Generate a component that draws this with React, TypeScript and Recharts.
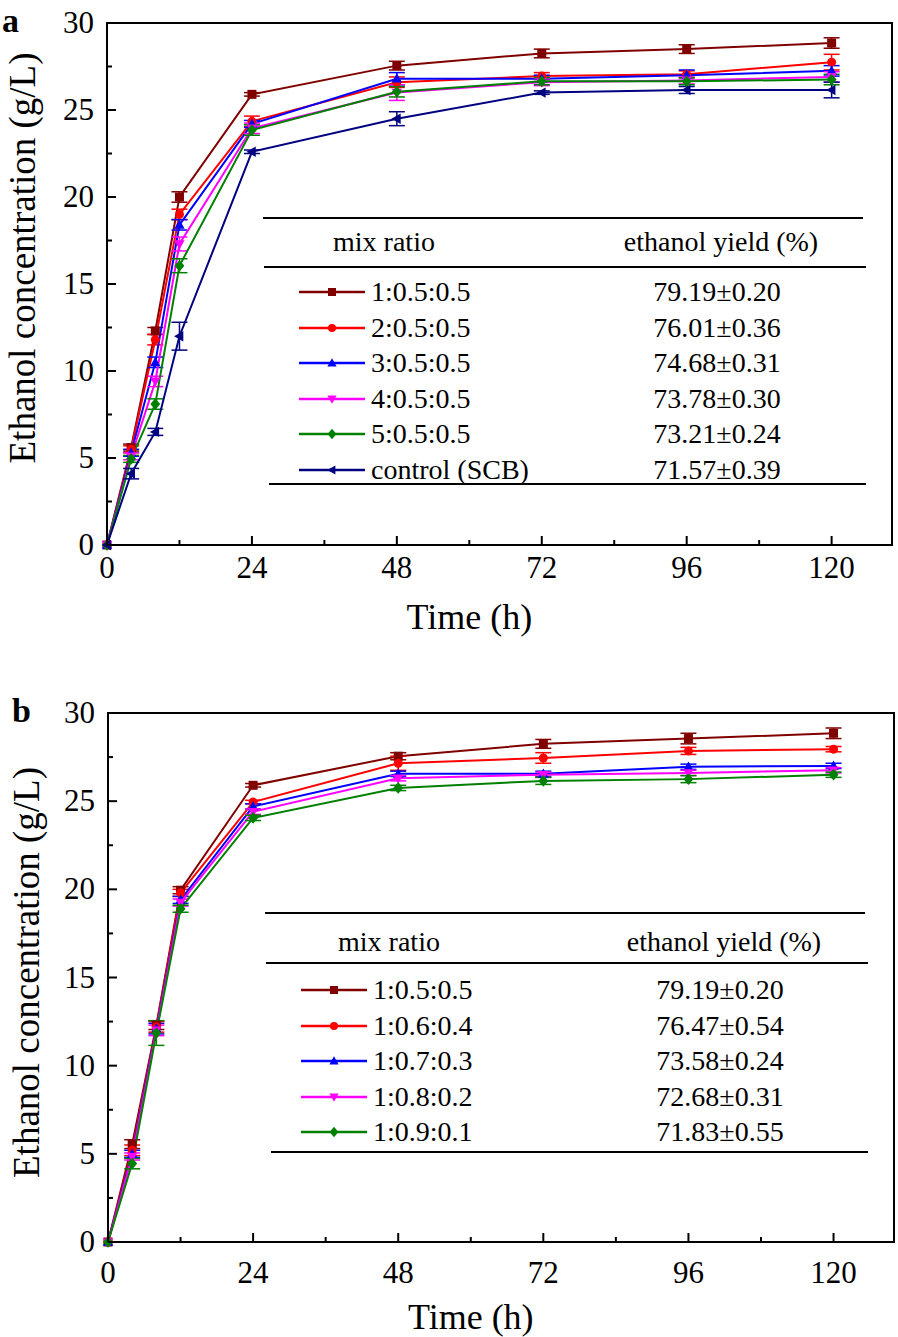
import React from 'react';
import { LineChart, Line, XAxis, YAxis, ErrorBar, ReferenceArea, Legend, Label } from 'recharts';

const FONT = '"Liberation Serif", "Times New Roman", serif';

// sampling times (h)
const HOURS = [0, 4, 8, 12, 24, 48, 72, 96, 120];
const X_TICKS = [0, 12, 24, 36, 48, 60, 72, 84, 96, 108, 120];
const Y_TICKS = [0, 2.5, 5, 7.5, 10, 12.5, 15, 17.5, 20, 22.5, 25, 27.5, 30];

const COLORS = ['#800000', '#ff0000', '#0000ff', '#ff00ff', '#008000', '#000080'];
const SHAPES = ['square', 'circle', 'up', 'down', 'diamond', 'left'];

// panel a
const A_NAMES = ['1:0.5:0.5', '2:0.5:0.5', '3:0.5:0.5', '4:0.5:0.5', '5:0.5:0.5', 'control (SCB)'];
const A_YIELDS = ['79.19±0.20', '76.01±0.36', '74.68±0.31', '73.78±0.30', '73.21±0.24', '71.57±0.39'];
const A_S1 = [0, 5.6, 12.3, 20.0, 25.9, 27.55, 28.25, 28.5, 28.85];
const A_S2 = [0, 5.5, 11.8, 19.0, 24.35, 26.6, 26.95, 27.05, 27.75];
const A_S3 = [0, 5.3, 10.5, 18.4, 24.2, 26.8, 26.8, 27.0, 27.25];
const A_S4 = [0, 5.1, 9.4, 17.3, 23.95, 26.0, 26.6, 26.7, 26.9];
const A_S5 = [0, 4.95, 8.1, 16.05, 23.85, 26.05, 26.65, 26.65, 26.75];
const A_S6 = [0, 4.1, 6.5, 12.0, 22.6, 24.5, 26.0, 26.15, 26.15];
const A_E1 = [0, 0.2, 0.2, 0.3, 0.1, 0.25, 0.25, 0.25, 0.3];
const A_E2 = [0, 0.2, 0.3, 0.3, 0.3, 0.3, 0.2, 0.2, 0.45];
const A_E3 = [0, 0.2, 0.3, 0.3, 0.2, 0.35, 0.2, 0.3, 0.3];
const A_E4 = [0, 0.2, 0.3, 0.4, 0.3, 0.45, 0.2, 0.2, 0.3];
const A_E5 = [0, 0.2, 0.3, 0.4, 0.3, 0.3, 0.2, 0.2, 0.3];
const A_E6 = [0, 0.3, 0.2, 0.8, 0.1, 0.4, 0.1, 0.2, 0.45];

// panel b
const B_NAMES = ['1:0.5:0.5', '1:0.6:0.4', '1:0.7:0.3', '1:0.8:0.2', '1:0.9:0.1'];
const B_YIELDS = ['79.19±0.20', '76.47±0.54', '73.58±0.24', '72.68±0.31', '71.83±0.55'];
const B_S1 = [0, 5.55, 12.3, 19.95, 25.9, 27.55, 28.25, 28.55, 28.85];
const B_S2 = [0, 5.2, 12.2, 19.8, 24.95, 27.15, 27.45, 27.85, 27.95];
const B_S3 = [0, 5.0, 12.1, 19.4, 24.7, 26.55, 26.55, 26.95, 27.0];
const B_S4 = [0, 4.85, 12.0, 19.25, 24.4, 26.3, 26.5, 26.6, 26.75];
const B_S5 = [0, 4.45, 11.85, 18.9, 24.05, 25.75, 26.15, 26.25, 26.5];
const B_E1 = [0, 0.25, 0.25, 0.2, 0.1, 0.2, 0.25, 0.3, 0.3];
const B_E2 = [0, 0.3, 0.3, 0.2, 0.1, 0.4, 0.3, 0.2, 0.15];
const B_E3 = [0, 0.2, 0.3, 0.2, 0.15, 0.15, 0.15, 0.15, 0.15];
const B_E4 = [0, 0.2, 0.3, 0.2, 0.15, 0.15, 0.15, 0.15, 0.15];
const B_E5 = [0, 0.3, 0.7, 0.2, 0.15, 0.15, 0.2, 0.2, 0.15];

function buildRows(series: number[][], errors: number[][]) {
  return HOURS.map((t, i) => {
    const row: any = { t };
    series.forEach((s, k) => {
      row['s' + k] = s[i];
      row['e' + k] = errors[k][i];
    });
    return row;
  });
}

function Marker({ cx, cy, shape, color, s = 4.5 }: any) {
  if (cx == null || cy == null) return null;
  switch (shape) {
    case 'square':
      return <rect x={cx - s} y={cy - s} width={2 * s} height={2 * s} fill={color} />;
    case 'circle':
      return <circle cx={cx} cy={cy} r={s} fill={color} />;
    case 'up':
      return <polygon points={`${cx},${cy - s * 1.2} ${cx + s * 1.15},${cy + s * 0.85} ${cx - s * 1.15},${cy + s * 0.85}`} fill={color} />;
    case 'down':
      return <polygon points={`${cx},${cy + s * 1.2} ${cx + s * 1.15},${cy - s * 0.85} ${cx - s * 1.15},${cy - s * 0.85}`} fill={color} />;
    case 'diamond':
      return <polygon points={`${cx},${cy - s * 1.3} ${cx + s * 1.1},${cy} ${cx},${cy + s * 1.3} ${cx - s * 1.1},${cy}`} fill={color} />;
    default:
      return <polygon points={`${cx - s * 1.2},${cy} ${cx + s * 0.85},${cy - s * 1.15} ${cx + s * 0.85},${cy + s * 1.15}`} fill={color} />;
  }
}

const makeXTick = (labelDy: number) => (props: any) => {
  const { x, y, payload } = props;
  const major = payload.value % 24 === 0;
  return (
    <g key={'xt' + payload.value}>
      <line x1={x} x2={x} y1={y} y2={y - (major ? 9 : 5)} stroke="#000" strokeWidth={2} />
      {major && (
        <text x={x} y={y + labelDy} textAnchor="middle" fontSize={31} fontFamily={FONT} fill="#000">
          {payload.value}
        </text>
      )}
    </g>
  );
};

const YTick = (props: any) => {
  const { x, y, payload } = props;
  const major = payload.value % 5 === 0;
  return (
    <g key={'yt' + payload.value}>
      <line x1={x} x2={x + (major ? 9 : 5)} y1={y} y2={y} stroke="#000" strokeWidth={2} />
      {major && (
        <text x={x - 13} y={y + 10} textAnchor="end" fontSize={31} fontFamily={FONT} fill="#000">
          {payload.value}
        </text>
      )}
    </g>
  );
};

function TableLegend({ names, yields, lay }: any) {
  const rule = (top: number, left: number, right: number) => (
    <div style={{ position: 'absolute', top, left, width: right - left, height: 2, background: '#000' }} />
  );
  const txt: React.CSSProperties = { position: 'absolute', fontFamily: FONT, fontSize: 28, lineHeight: '30px', color: '#000', whiteSpace: 'nowrap' };
  return (
    <div style={{ position: 'relative', width: 605, height: lay.bottom + 3 }}>
      {rule(0, 0, 600)}
      <div style={{ ...txt, top: lay.header - 15, left: lay.mixX, transform: 'translateX(-50%)' }}>mix ratio</div>
      <div style={{ ...txt, top: lay.header - 15, left: lay.yieldX, transform: 'translateX(-50%)' }}>ethanol yield (%)</div>
      {rule(lay.rule2, 1, 603)}
      {names.map((n: string, i: number) => {
        const cy = lay.row0 + i * lay.gap;
        return (
          <React.Fragment key={n + i}>
            <svg style={{ position: 'absolute', left: 36, top: cy - 8 }} width={66} height={16}>
              <line x1={0} x2={66} y1={8} y2={8} stroke={COLORS[i]} strokeWidth={2.5} />
              <Marker cx={33} cy={8} shape={SHAPES[i]} color={COLORS[i]} s={4} />
            </svg>
            <div style={{ ...txt, top: cy - 15, left: 108 }}>{n}</div>
            <div style={{ ...txt, top: cy - 15, left: lay.valX, transform: 'translateX(-50%)' }}>{yields[i]}</div>
          </React.Fragment>
        );
      })}
      {rule(lay.bottom, 6, 603)}
    </div>
  );
}

function Panel({ names, yields, series, errors, cfg }: any) {
  const rows = buildRows(series, errors);
  return (
    <LineChart
      width={898}
      height={cfg.height}
      data={rows}
      margin={{ top: cfg.top, right: cfg.right, bottom: 0, left: 0 }}
      style={{ fontFamily: FONT }}
    >
      <ReferenceArea x1={0} x2={130} y1={0} y2={30} fill="none" stroke="#000" strokeWidth={2} ifOverflow="visible" />
      <XAxis
        type="number"
        dataKey="t"
        domain={[0, 130]}
        ticks={X_TICKS}
        interval={0}
        tickSize={0}
        tickMargin={0}
        tickLine={false}
        axisLine={{ stroke: '#000', strokeWidth: 2 }}
        tick={makeXTick(cfg.xLabelDy)}
        height={cfg.xHeight}
      >
        <Label
          content={(p: any) => {
            const vb = p.viewBox;
            return (
              <text x={vb.x + (vb.width * 60) / 130} y={vb.y + cfg.xTitleDy} textAnchor="middle" dominantBaseline="central" fontSize={36} fontFamily={FONT} fill="#000">
                Time (h)
              </text>
            );
          }}
        />
      </XAxis>
      <YAxis
        type="number"
        domain={[0, 30]}
        ticks={Y_TICKS}
        interval={0}
        tickSize={0}
        tickMargin={0}
        tickLine={false}
        axisLine={{ stroke: '#000', strokeWidth: 2 }}
        tick={YTick}
        width={cfg.yWidth}
      >
        <Label
          content={(p: any) => {
            const vb = p.viewBox;
            const cx = vb.x + cfg.yTitleX;
            const cy = vb.y + vb.height / 2 + cfg.yTitleDy;
            return (
              <text x={cx} y={cy} transform={`rotate(-90 ${cx} ${cy})`} textAnchor="middle" dominantBaseline="central" fontSize={37} fontFamily={FONT} fill="#000">
                Ethanol concentration (g/L)
              </text>
            );
          }}
        />
      </YAxis>
      <Legend
        layout="vertical"
        align="center"
        verticalAlign="middle"
        wrapperStyle={{ left: cfg.legLeft, top: cfg.legTop, width: 605 }}
        content={() => <TableLegend names={names} yields={yields} lay={cfg.lay} />}
      />
      {series.map((_: number[], k: number) => (
        <Line
          key={'s' + k}
          type="linear"
          dataKey={'s' + k}
          name={names[k]}
          stroke={COLORS[k]}
          strokeWidth={2}
          isAnimationActive={false}
          activeDot={false}
          dot={(p: any) => <Marker key={'d' + k + '-' + p.index} cx={p.cx} cy={p.cy} shape={SHAPES[k]} color={COLORS[k]} />}
        >
          <ErrorBar dataKey={'e' + k} width={8} strokeWidth={1.5} stroke={COLORS[k]} direction="y" isAnimationActive={false} />
        </Line>
      ))}
    </LineChart>
  );
}

const CFG_A = {
  height: 655, top: 23, right: 6, yWidth: 107, xHeight: 110, xLabelDy: 33, xTitleDy: 72,
  yTitleX: 22, yTitleDy: -26, legLeft: 263, legTop: 217,
  lay: { header: 25, rule2: 49, row0: 75, gap: 35.6, bottom: 266, mixX: 121, yieldX: 458, valX: 454 },
};

const CFG_B = {
  height: 682, top: 58, right: 4, yWidth: 108, xHeight: 95, xLabelDy: 41, xTitleDy: 75,
  yTitleX: 26, yTitleDy: -5, legLeft: 265, legTop: 257,
  lay: { header: 30, rule2: 50, row0: 78, gap: 35.5, bottom: 239, mixX: 124, yieldX: 459, valX: 455 },
};

export default function App() {
  const letter: React.CSSProperties = { position: 'absolute', fontFamily: FONT, fontWeight: 'bold', fontSize: 34, lineHeight: '34px', color: '#000' };
  return (
    <div style={{ position: 'absolute', left: 0, top: 0, width: 898, height: 1337, background: '#fff' }}>
      <div style={{ position: 'absolute', left: 0, top: 0 }}>
        <Panel names={A_NAMES} yields={A_YIELDS} series={[A_S1, A_S2, A_S3, A_S4, A_S5, A_S6]} errors={[A_E1, A_E2, A_E3, A_E4, A_E5, A_E6]} cfg={CFG_A} />
      </div>
      <div style={{ position: 'absolute', left: 0, top: 655 }}>
        <Panel names={B_NAMES} yields={B_YIELDS} series={[B_S1, B_S2, B_S3, B_S4, B_S5]} errors={[B_E1, B_E2, B_E3, B_E4, B_E5]} cfg={CFG_B} />
      </div>
      <div style={{ ...letter, left: 2, top: 4 }}>a</div>
      <div style={{ ...letter, left: 12, top: 694 }}>b</div>
    </div>
  );
}
